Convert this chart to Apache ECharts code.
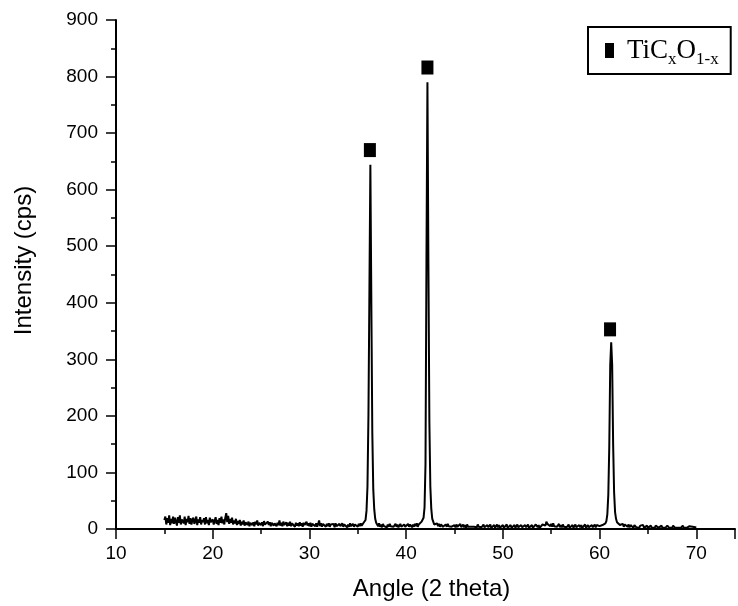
<!DOCTYPE html>
<html>
<head>
<meta charset="utf-8">
<script src="https://cdn.jsdelivr.net/npm/echarts@6/dist/echarts.min.js"></script>
<style>html,body{margin:0;padding:0;background:#fff;}#c{width:738px;height:606px;}</style>
</head>
<body>
<div id="c"></div>
<script>
// XRD scan: regularly sampled from angleStart with angleStep (degrees 2θ)
const angleStart = 15.0;
const angleStep = 0.1;
const intensity = [
  16, 22, 8, 19, 11, 24, 7, 18, 10, 22,      // 15
  9, 20, 13, 6, 21, 11, 24, 8, 17, 14,       // 16
  10, 22, 7, 18, 12, 23, 9, 19, 8, 16,       // 17
  20, 9, 14, 22, 7, 17, 11, 21, 8, 16,       // 18
  12, 19, 8, 21, 10, 16, 7, 20, 12, 9,       // 19
  17, 8, 14, 21, 9, 16, 7, 19, 11, 22,       // 20
  10, 17, 8, 20, 28, 12, 23, 9, 18, 11,      // 21
  20, 8, 15, 10, 18, 7, 14, 9, 16, 6,        // 22
  13, 8, 15, 6, 12, 14, 7, 13, 5, 11,        // 23
  14, 7, 12, 5, 13, 8, 15, 6, 11, 13,        // 24
  7, 12, 5, 14, 8, 11, 6, 13, 7, 12,         // 25
  5, 11, 14, 6, 10, 13, 5, 11, 7, 15,        // 26
  6, 11, 5, 13, 7, 10, 12, 5, 11, 6,         // 27
  13, 5, 10, 7, 12, 4, 11, 6, 10, 5,         // 28
  12, 6, 10, 4, 11, 7, 5, 13, 6, 10,         // 29
  5, 11, 4, 9, 6, 12, 5, 10, 4, 9,           // 30
  15, 5, 10, 4, 9, 6, 11, 4, 9, 5,           // 31
  10, 4, 8, 11, 5, 9, 3, 10, 5, 8,           // 32
  4, 9, 5, 3, 10, 4, 8, 5, 9, 3,             // 33
  8, 4, 10, 5, 3, 9, 4, 8, 5, 10,            // 34
  4, 9, 5, 10, 6, 9, 11, 10, 16, 32,         // 35
  75, 200, 420, 644, 400, 170, 70, 35, 18, 11, // 36
  8, 5, 10, 4, 8, 3, 9, 5, 4, 8,             // 37
  3, 8, 4, 9, 5, 3, 8, 4, 5, 9,              // 38
  4, 8, 3, 5, 9, 4, 5, 3, 8, 4,              // 39
  5, 3, 9, 4, 8, 5, 3, 8, 4, 9,              // 40
  5, 10, 4, 8, 11, 7, 13, 10, 20, 38,        // 41
  115, 480, 790, 470, 190, 75, 35, 18, 13, 8, // 42
  11, 6, 10, 5, 9, 4, 8, 10, 4, 7,           // 43
  3, 8, 4, 9, 5, 3, 8, 4, 6, 2,              // 44
  7, 3, 8, 4, 2, 7, 9, 3, 5, 8,              // 45
  3, 7, 2, 8, 4, 3, 7, 4, 2, 7,              // 46
  4, 2, 7, 3, 8, 4, 2, 7, 3, 5,              // 47
  8, 3, 5, 2, 7, 3, 5, 8, 2, 5,              // 48
  3, 7, 2, 5, 8, 3, 7, 2, 5, 3,              // 49
  7, 2, 5, 3, 8, 2, 5, 3, 7, 2,              // 50
  5, 3, 7, 2, 5, 8, 3, 5, 2, 7,              // 51
  3, 5, 2, 7, 3, 5, 8, 2, 5, 3,              // 52
  7, 2, 5, 3, 8, 5, 3, 7, 2, 5,              // 53
  3, 8, 5, 9, 6, 13, 9, 7, 11, 5,            // 54
  9, 4, 10, 5, 3, 8, 4, 6, 9, 3,             // 55
  7, 3, 8, 4, 2, 7, 3, 5, 8, 2,              // 56
  5, 3, 7, 2, 5, 8, 3, 5, 2, 7,              // 57
  3, 7, 2, 5, 3, 8, 2, 5, 7, 3,              // 58
  5, 2, 7, 3, 5, 8, 3, 7, 5, 9,              // 59
  5, 8, 4, 7, 9, 6, 10, 14, 26, 60,          // 60
  145, 290, 330, 290, 150, 65, 30, 18, 12, 9, // 61
  11, 7, 10, 5, 9, 4, 8, 6, 7, 4,            // 62
  8, 3, 7, 5, 6, 2, 7, 5, 3, 6,              // 63
  4, 2, 6, 3, 5, 7, 2, 5, 3, 6,              // 64
  2, 5, 3, 6, 2, 5, 3, 2, 6, 3,              // 65
  5, 2, 5, 3, 6, 2, 3, 5, 2, 4,              // 66
  6, 3, 2, 5, 3, 2, 6, 3, 2, 5,              // 67
  3, 2, 5, 3, 2, 4, 6, 2, 3, 5,              // 68
  2, 4, 3, 5, 2, 3, 4, 5, 2, 3,              // 69
  3                                          // 70
];
// Phase markers (TiCxO1-x) placed above the peaks
const markerAngles = [36.25, 42.2, 61.08];
const markerHeights = [670, 816, 353];
const phaseName = 'TiCxO1-x';
const xTitle = 'Angle (2 theta)';
const yTitle = 'Intensity (cps)';

const scanData = intensity.map((v, i) => [+(angleStart + i * angleStep).toFixed(2), v]);
const markerData = markerAngles.map((a, i) => [a, markerHeights[i]]);

const chart = echarts.init(document.getElementById('c'), null, {renderer: 'canvas'});
const axisFont = 'Liberation Sans, Arial, sans-serif';
const serif = 'Liberation Serif, Times New Roman, serif';
chart.setOption({
  animation: false,
  backgroundColor: '#fff',
  grid: {left: 116, right: 0, top: 20, bottom: 76, containLabel: false},
  legend: {
    data: [phaseName],
    left: 588, top: 27,
    borderColor: '#000', borderWidth: 2,
    padding: [6, 12, 6, 17],
    icon: 'rect', itemWidth: 9, itemHeight: 15,
    itemStyle: {color: '#000', opacity: 1},
    formatter: () => '{f|TiC}{s|x}{m|O}{s|1-x}',
    textStyle: {
      color: '#000',
      rich: {
        f: {fontFamily: serif, fontSize: 27, lineHeight: 31, color: '#000', padding: [0, 0, 0, 8]},
        m: {fontFamily: serif, fontSize: 27, lineHeight: 31, color: '#000'},
        s: {fontFamily: serif, fontSize: 17, lineHeight: 17, color: '#000', padding: [18, 0, 0, 0]}
      }
    }
  },
  xAxis: {
    type: 'value', min: 10, max: 74, interval: 10,
    name: xTitle, nameLocation: 'middle', nameGap: 48,
    nameTextStyle: {fontFamily: axisFont, fontSize: 24, color: '#000', padding: [0, 0, 0, 12]},
    axisLine: {show: true, onZero: false, lineStyle: {color: '#000', width: 2}},
    axisTick: {show: true, inside: false, length: 10, lineStyle: {color: '#000', width: 1.5}},
    minorTick: {show: true, splitNumber: 2, length: 5, lineStyle: {color: '#000', width: 1.5}},
    axisLabel: {fontFamily: axisFont, fontSize: 19, color: '#000', margin: 15,
      formatter: v => (v <= 70 ? String(v) : '')},
    splitLine: {show: false}
  },
  yAxis: {
    type: 'value', min: 0, max: 900, interval: 100,
    name: yTitle, nameLocation: 'middle', nameGap: 80,
    nameTextStyle: {fontFamily: axisFont, fontSize: 24, color: '#000', padding: [0, 0, 0, 28]},
    axisLine: {show: true, onZero: false, lineStyle: {color: '#000', width: 2}},
    axisTick: {show: true, inside: false, length: 10, lineStyle: {color: '#000', width: 1.5}},
    minorTick: {show: true, splitNumber: 2, length: 5, lineStyle: {color: '#000', width: 1.5}},
    axisLabel: {fontFamily: axisFont, fontSize: 19, color: '#000', margin: 18},
    splitLine: {show: false}
  },
  series: [
    {
      type: 'line', name: 'scan', data: scanData,
      showSymbol: false, symbol: 'none',
      lineStyle: {color: '#000', width: 2},
      itemStyle: {color: '#000'},
      z: 2
    },
    {
      type: 'scatter', name: phaseName, data: markerData,
      symbol: 'rect', symbolSize: [12, 14],
      itemStyle: {color: '#000', opacity: 1},
      z: 3
    }
  ]
});
</script>
</body>
</html>
